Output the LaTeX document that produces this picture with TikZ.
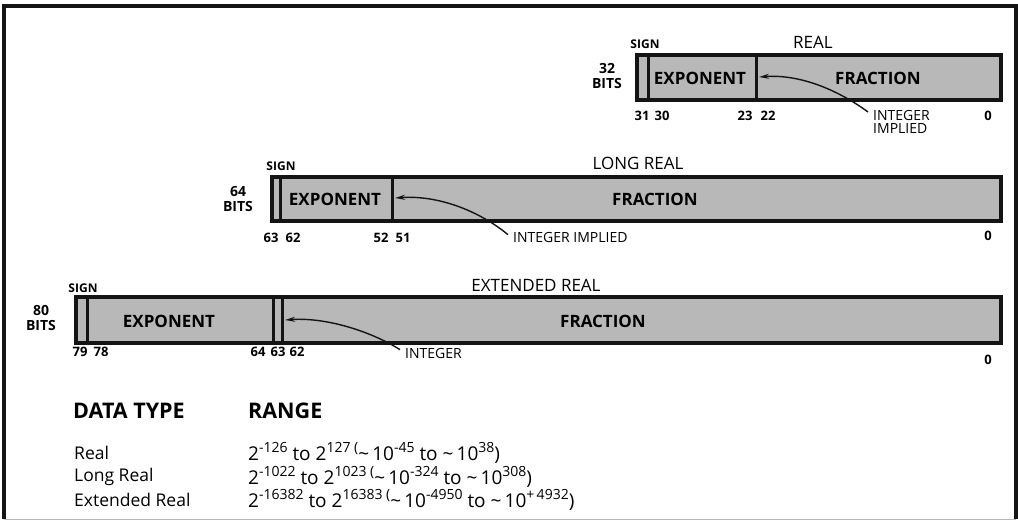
\documentclass[tikz,border=0pt]{standalone}
\usepackage{fontspec}
\setmainfont{Open Sans}
\usepackage{xcolor}
\usetikzlibrary{arrows.meta,positioning}
\definecolor{barshade}{gray}{0.72}
\definecolor{frameline}{gray}{0.08}
\newcommand{\rsup}[1]{\raisebox{0.42em}{\fontsize{14}{14}\selectfont #1}}

\tikzset{
  barbox/.style={draw=frameline,line width=3.2pt,fill=barshade},
  divider/.style={draw=frameline,line width=3pt},
  fieldlbl/.style={font=\fontsize{17}{17}\selectfont\bfseries,inner sep=0pt},
  titlelbl/.style={font=\fontsize{17}{17}\selectfont,inner sep=0pt},
  signlbl/.style={font=\fontsize{12}{12}\selectfont\bfseries,inner sep=0pt},
  bitno/.style={font=\fontsize{13}{13}\selectfont\bfseries,inner sep=0pt},
  sizelbl/.style={font=\fontsize{14}{14.5}\selectfont\bfseries,align=center,inner sep=0pt},
  notelbl/.style={font=\fontsize{14}{13.5}\selectfont,align=left,anchor=west,inner sep=1pt},
  hdrlbl/.style={font=\fontsize{21.5}{21.5}\selectfont\bfseries,anchor=west,inner sep=0pt},
  rowlbl/.style={font=\fontsize{17.5}{17.5}\selectfont,anchor=west,inner sep=0pt},
  rnglbl/.style={font=\fontsize{19}{19}\selectfont,anchor=west,inner sep=0pt},
  pointer/.style={->,line width=1.4pt,draw=frameline},
}

\begin{document}
\begin{tikzpicture}[x=1pt,y=-1pt,>={Stealth[length=10pt,width=5pt]}]
  \useasboundingbox (0,0) rectangle (1018,521);
  % outer frame
  \draw[line width=3.2pt,frameline] (4,519) -- (4,6) -- (1016,6) -- (1016,519);
  \draw[gray!55,line width=0.6pt] (4,519) -- (1016,519);

  % 32 bit real
  \draw[barbox] (637,55) rectangle (1001,100);
  \draw[divider] (648,55) -- (648,100);
  \draw[divider] (756,55) -- (756,100);
  \node[titlelbl] (realttl) at (813,42) {REAL};
  \node[signlbl] (realsign) at (645,44) {SIGN};
  \node[sizelbl] (realsize) at (607,76) {32\\BITS};
  \node[fieldlbl] (realexp) at (700,78) {EXPONENT};
  \node[fieldlbl] (realfrac) at (878,78) {FRACTION};
  \node[bitno] (r31) at (642,116) {31};
  \node[bitno] (r30) at (662,116) {30};
  \node[bitno] (r23) at (745,116) {23};
  \node[bitno] (r22) at (768,116) {22};
  \node[bitno] (r0) at (988,116) {0};
  \node[notelbl] (realint) at (872,122) {INTEGER\\IMPLIED};
  \coordinate (realhid) at (759,77);
  \draw[pointer] ([xshift=-4pt,yshift=-3pt]realint.north west)
    .. controls (838,90) and (800,74) .. (realhid);

  % 64 bit long real
  \draw[barbox] (272,177) rectangle (1001,221);
  \draw[divider] (280,177) -- (280,221);
  \draw[divider] (392,177) -- (392,221);
  \node[titlelbl] (longttl) at (638,163) {LONG REAL};
  \node[signlbl] (longsign) at (281,166) {SIGN};
  \node[sizelbl] (longsize) at (238,199) {64\\BITS};
  \node[fieldlbl] (longexp) at (335,199) {EXPONENT};
  \node[fieldlbl] (longfrac) at (655,199) {FRACTION};
  \node[bitno] (l63) at (271,238) {63};
  \node[bitno] (l62) at (293,238) {62};
  \node[bitno] (l52) at (381,238) {52};
  \node[bitno] (l51) at (403,238) {51};
  \node[bitno] (l0) at (988,236) {0};
  \node[notelbl] (longint) at (512,238) {INTEGER IMPLIED};
  \coordinate (longhid) at (395,198);
  \draw[pointer] ([xshift=-4pt,yshift=-3pt]longint.north west)
    .. controls (478,210) and (437,195) .. (longhid);

  % 80 bit extended real
  \draw[barbox] (76,297) rectangle (1001,343);
  \draw[divider] (87,297) -- (87,343);
  \draw[divider] (273,297) -- (273,343);
  \draw[divider] (282,297) -- (282,343);
  \node[titlelbl] (extttl) at (536,285) {EXTENDED REAL};
  \node[signlbl] (extsign) at (83,288) {SIGN};
  \node[sizelbl] (extsize) at (41,318) {80\\BITS};
  \node[fieldlbl] (extexp) at (169,321) {EXPONENT};
  \node[fieldlbl] (extfrac) at (603,321) {FRACTION};
  \node[bitno] (e79) at (80,352) {79};
  \node[bitno] (e78) at (101,352) {78};
  \node[bitno] (e64) at (258,352) {64};
  \node[bitno] (e63) at (278,352) {63};
  \node[bitno] (e62) at (297,352) {62};
  \node[bitno] (e0) at (988,360) {0};
  \node[notelbl] (extint) at (404,353) {INTEGER};
  \coordinate (exthid) at (285,320);
  \draw[pointer] ([xshift=-4pt,yshift=-3pt]extint.north west)
    .. controls (372,332) and (327,317) .. (exthid);

  % range table
  \node[hdrlbl] (dtype) at (73,411) {DATA TYPE};
  \node[hdrlbl] (range) at (248,411) {RANGE};
  \node[rowlbl] (realrow) at (74,453) {Real};
  \node[rowlbl] (longrow) at (74,477) {Long Real};
  \node[rowlbl] (extrow) at (74,500) {Extended Real};
  \node[rnglbl] (realrng) at (248,453)
    {2\rsup{-126} to 2\rsup{127 (}\textasciitilde\,10\rsup{-45} to \textasciitilde\,10\rsup{38})};
  \node[rnglbl] (longrng) at (248,477)
    {2\rsup{-1022} to 2\rsup{1023 (}\textasciitilde\,10\rsup{-324} to \textasciitilde\,10\rsup{308})};
  \node[rnglbl] (extrng) at (248,500)
    {2\rsup{-16382} to 2\rsup{16383 (}\textasciitilde\,10\rsup{-4950} to \textasciitilde\,10\rsup{+\,4932})};
\end{tikzpicture}
\end{document}
